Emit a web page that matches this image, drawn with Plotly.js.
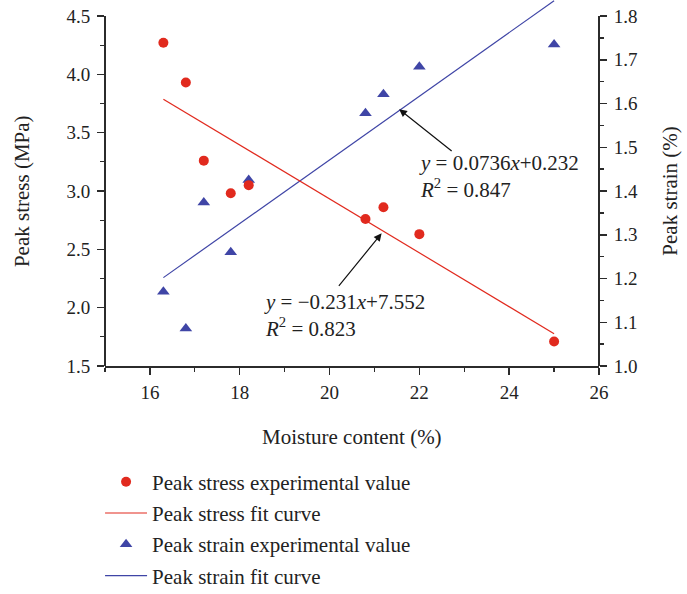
<!DOCTYPE html>
<html>
<head>
<meta charset="utf-8">
<script src="https://cdn.plot.ly/plotly-3.0.1.min.js"></script>
<style>html,body{margin:0;padding:0;background:#fff;}#chart{width:687px;height:594px;}</style>
</head>
<body>
<div id="chart"></div>
<script>
// Data
const moisture = [16.3, 16.8, 17.2, 17.8, 18.2, 20.8, 21.2, 22.0, 25.0];
const peakStress = [4.27, 3.93, 3.26, 2.98, 3.05, 2.76, 2.86, 2.63, 1.71];
const peakStrain = [1.17, 1.086, 1.374, 1.26, 1.425, 1.578, 1.621, 1.684, 1.735];
const fitX = [16.3, 25.0];
const stressFit = [3.787, 1.777];
const strainFit = [1.202, 1.835];
const xTicks = [16, 18, 20, 22, 24, 26];
const stressTicks = [1.5, 2.0, 2.5, 3.0, 3.5, 4.0, 4.5];
const strainTicks = [1.0, 1.1, 1.2, 1.3, 1.4, 1.5, 1.6, 1.7, 1.8];

const RED = '#e12a1e', BLUE = '#3f45a6', AX = '#2b2b2b', TXT = '#222';
const FONT = 'Liberation Serif, Times New Roman, serif';
const TICKFONT = {family: FONT, size: 19, color: TXT};
const TFS = 21;

const traces = [
  {x: moisture, y: peakStrain, type: 'scatter', mode: 'markers', name: 'Peak strain experimental value',
   yaxis: 'y', legendrank: 3, legendgroup: 'c',
   marker: {symbol: 'triangle-up', size: 11, color: BLUE}},
  {x: fitX, y: strainFit, type: 'scatter', mode: 'lines', name: 'Peak strain fit curve',
   yaxis: 'y', legendrank: 4, legendgroup: 'd',
   line: {color: BLUE, width: 1.2}},
  {x: moisture, y: peakStress, type: 'scatter', mode: 'markers', name: 'Peak stress experimental value',
   yaxis: 'y2', legendrank: 1, legendgroup: 'a',
   marker: {symbol: 'circle', size: 10, color: RED}},
  {x: fitX, y: stressFit, type: 'scatter', mode: 'lines', name: 'Peak stress fit curve',
   yaxis: 'y2', legendrank: 2, legendgroup: 'b',
   line: {color: RED, width: 1.2}}
];

const layout = {
  width: 687, height: 594,
  margin: {l: 105, r: 88, t: 0, b: 228},
  paper_bgcolor: '#fff', plot_bgcolor: '#fff',
  font: {family: FONT, size: TFS, color: TXT},
  showlegend: true,
  legend: {x: -0.01, xanchor: 'left', xref: 'paper', y: 0.223, yref: 'container', yanchor: 'top',
           orientation: 'v', itemwidth: 42,
           traceorder: 'grouped', tracegroupgap: 1, font: {size: TFS, family: FONT, color: TXT},
           bgcolor: 'rgba(0,0,0,0)'},
  xaxis: {range: [15, 26], tickvals: xTicks, ticks: 'outside', ticklen: 7, tickwidth: 1.5, tickcolor: AX,
          tickfont: TICKFONT, ticklabelstandoff: 1, automargin: false,
          showline: true, linecolor: AX, linewidth: 2, showgrid: false, zeroline: false,
          minor: {dtick: 1, tick0: 15, ticks: 'outside', ticklen: 4, tickwidth: 1.3, tickcolor: AX}},
  yaxis: {range: [1.0, 1.8366], side: 'right', tickvals: strainTicks, ticktext: strainTicks.map(v => v.toFixed(1)),
          ticks: 'outside', ticklen: 7, tickwidth: 1.5, tickcolor: AX, tickfont: TICKFONT, ticklabelstandoff: 3,
          automargin: false, showline: false, showgrid: false, zeroline: false,
          minor: {dtick: 0.05, tick0: 1.0, ticks: 'outside', ticklen: 4, tickwidth: 1.3, tickcolor: AX}},
  yaxis2: {range: [1.5, 4.637], side: 'left', overlaying: 'y', tickvals: stressTicks, ticktext: stressTicks.map(v => v.toFixed(1)),
          ticks: 'outside', ticklen: 7, tickwidth: 1.5, tickcolor: AX, tickfont: TICKFONT, ticklabelstandoff: 3,
          automargin: false, showline: false, showgrid: false, zeroline: false,
          minor: {dtick: 0.25, tick0: 1.5, ticks: 'outside', ticklen: 4, tickwidth: 1.3, tickcolor: AX}},
  shapes: [
    {type: 'line', xref: 'paper', yref: 'y2', x0: 0, x1: 0, y0: 1.5, y1: 4.5, line: {color: AX, width: 2}},
    {type: 'line', xref: 'paper', yref: 'y', x0: 1, x1: 1, y0: 1.0, y1: 1.8, line: {color: AX, width: 2}}
  ],
  annotations: [
    // axis titles
    {xref: 'paper', yref: 'paper', x: 0.5, y: -0.194, xanchor: 'center', yanchor: 'middle', showarrow: false,
     text: 'Moisture content (%)', font: {size: TFS, color: TXT, family: FONT}},
    {xref: 'paper', yref: 'paper', x: -0.168, y: 0.478, xanchor: 'center', yanchor: 'middle', showarrow: false,
     textangle: -90, text: 'Peak stress (MPa)', font: {size: TFS, color: TXT, family: FONT}},
    {xref: 'paper', yref: 'paper', x: 1.143, y: 0.478, xanchor: 'center', yanchor: 'middle', showarrow: false,
     textangle: -90, text: 'Peak strain (%)', font: {size: TFS, color: TXT, family: FONT}},
    // arrows
    {x: 21.55, y: 1.587, xref: 'x', yref: 'y', text: '', showarrow: true, ax: 54, ay: 43,
     arrowhead: 2, arrowsize: 1.3, arrowwidth: 1.2, arrowcolor: '#111'},
    {x: 21.16, y: 2.637, xref: 'x', yref: 'y2', text: '', showarrow: true, ax: -44, ay: 54,
     arrowhead: 2, arrowsize: 1.3, arrowwidth: 1.2, arrowcolor: '#111'},
    // fit equations
    {x: 21.95, y: 3.12, xref: 'x', yref: 'y2', xanchor: 'left', yanchor: 'middle', align: 'left', showarrow: false,
     text: '<i>y</i> = 0.0736<i>x</i>+0.232<br><i>R</i><sup>2</sup> = 0.847', font: {size: TFS, color: TXT, family: FONT}},
    {x: 18.5, y: 1.937, xref: 'x', yref: 'y2', xanchor: 'left', yanchor: 'middle', align: 'left', showarrow: false,
     text: '<i>y</i> = \u22120.231<i>x</i>+7.552<br><i>R</i><sup>2</sup> = 0.823', font: {size: TFS, color: TXT, family: FONT}}
  ]
};

Plotly.newPlot('chart', traces, layout, {displayModeBar: false, staticPlot: true});
</script>
</body>
</html>
